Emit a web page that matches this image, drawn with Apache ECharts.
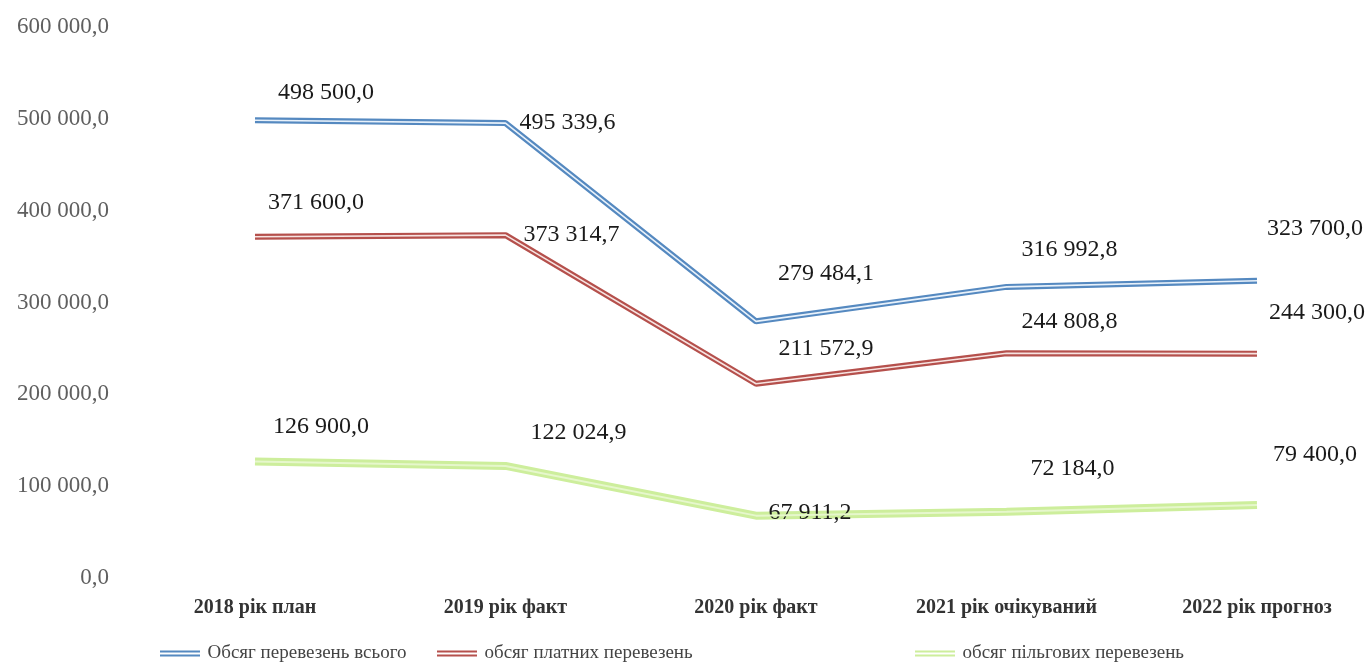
<!DOCTYPE html>
<html>
<head>
<meta charset="utf-8">
<script src="https://cdn.jsdelivr.net/npm/echarts@6/dist/echarts.min.js"></script>
<style>
  html, body { margin: 0; padding: 0; background: #fff; }
  #chart { width: 1372px; height: 670px; }
</style>
</head>
<body>
<div id="chart"></div>
<script>
// категорії та значення
const categories = ['2018 рік план', '2019 рік факт', '2020 рік факт', '2021 рік очікуваний', '2022 рік прогноз']
const totalVolume = [498500.0, 495339.6, 279484.1, 316992.8, 323700.0]
const paidVolume = [371600.0, 373314.7, 211572.9, 244808.8, 244300.0]
const benefitVolume = [126900.0, 122024.9, 67911.2, 72184.0, 79400.0]
const seriesNames = ['Обсяг перевезень всього', 'обсяг платних перевезень', 'обсяг пільгових перевезень']

// зсув підписів відносно точки (центр підпису)
const totalLabelShift = [[71, -28], [62, 0], [70, -48], [63, -37], [58, -52]]
const paidLabelShift = [[61, -34], [66, 0], [70, -35], [63, -31], [60, -41]]
const benefitLabelShift = [[66, -35], [73, -33], [54, -3], [66, -43], [58, -50]]

const serif = '"Liberation Serif", "DejaVu Serif", serif'

// 498500 -> "498 500,0"
const fmt = v => {
  const [int, dec] = v.toFixed(1).split('.')
  return int.replace(/\B(?=(\d{3})+(?!\d))/g, ' ') + ',' + dec
}

const withLabels = (values, shifts) => values.map((v, i) => ({
  value: v,
  label: { offset: shifts[i] }
}))

// зовнішня (товста кольорова) лінія
const outerLine = (name, values, shifts, color, width) => ({
  name: name,
  type: 'line',
  data: withLabels(values, shifts),
  symbol: 'circle',
  symbolSize: 1,
  itemStyle: { color: 'transparent' },
  lineStyle: { color: color, width: width },
  z: 2,
  label: {
    show: true,
    position: 'inside',
    formatter: p => fmt(p.value),
    color: '#1a1a1a',
    fontFamily: serif,
    fontSize: 24
  },
  emphasis: { disabled: true }
})

// внутрішня світла смуга — ефект подвійної лінії
const innerLine = (name, values, color, width) => ({
  name: name,
  type: 'line',
  data: values,
  symbol: 'none',
  lineStyle: { color: color, width: width },
  z: 3,
  silent: true
})

const legendIcon = 'path://M0,0H40V2H0Z M0,4H40V6H0Z'
const legendBase = {
  bottom: 2,
  icon: legendIcon,
  itemWidth: 45,
  itemHeight: 6,
  itemGap: 4,
  textStyle: { fontFamily: serif, fontSize: 19, color: '#444' }
}

const chart = echarts.init(document.getElementById('chart'))
chart.setOption({
  animation: false,
  grid: { left: 255, right: 115, top: 27, bottom: 92 },
  legend: [
    Object.assign({}, legendBase, { left: 155, data: [{ name: seriesNames[0], itemStyle: { color: '#5589c0' } }] }),
    Object.assign({}, legendBase, { left: 432, data: [{ name: seriesNames[1], itemStyle: { color: '#b5504c' } }] }),
    Object.assign({}, legendBase, { left: 910, data: [{ name: seriesNames[2], itemStyle: { color: '#cdee9c' } }] })
  ],
  xAxis: {
    type: 'category',
    data: categories,
    boundaryGap: false,
    axisLine: { show: false },
    axisTick: { show: false },
    axisLabel: {
      margin: 20,
      fontFamily: serif,
      fontSize: 20,
      fontWeight: 'bold',
      color: '#333'
    }
  },
  yAxis: {
    type: 'value',
    min: 0,
    max: 600000,
    interval: 100000,
    axisLine: { show: false },
    axisTick: { show: false },
    splitLine: { show: false },
    axisLabel: {
      margin: 146,
      formatter: v => fmt(v),
      fontFamily: serif,
      fontSize: 23,
      color: '#5f5f5f'
    }
  },
  series: [
    outerLine(seriesNames[0], totalVolume, totalLabelShift, '#5589c0', 6),
    innerLine('total-inner', totalVolume, '#e8f1fa', 1.6),
    outerLine(seriesNames[1], paidVolume, paidLabelShift, '#b5504c', 6),
    innerLine('paid-inner', paidVolume, '#f6e3e1', 1.6),
    outerLine(seriesNames[2], benefitVolume, benefitLabelShift, '#cdee9c', 8),
    innerLine('benefit-inner', benefitVolume, '#e6f7cc', 2)
  ]
})
</script>
</body>
</html>
